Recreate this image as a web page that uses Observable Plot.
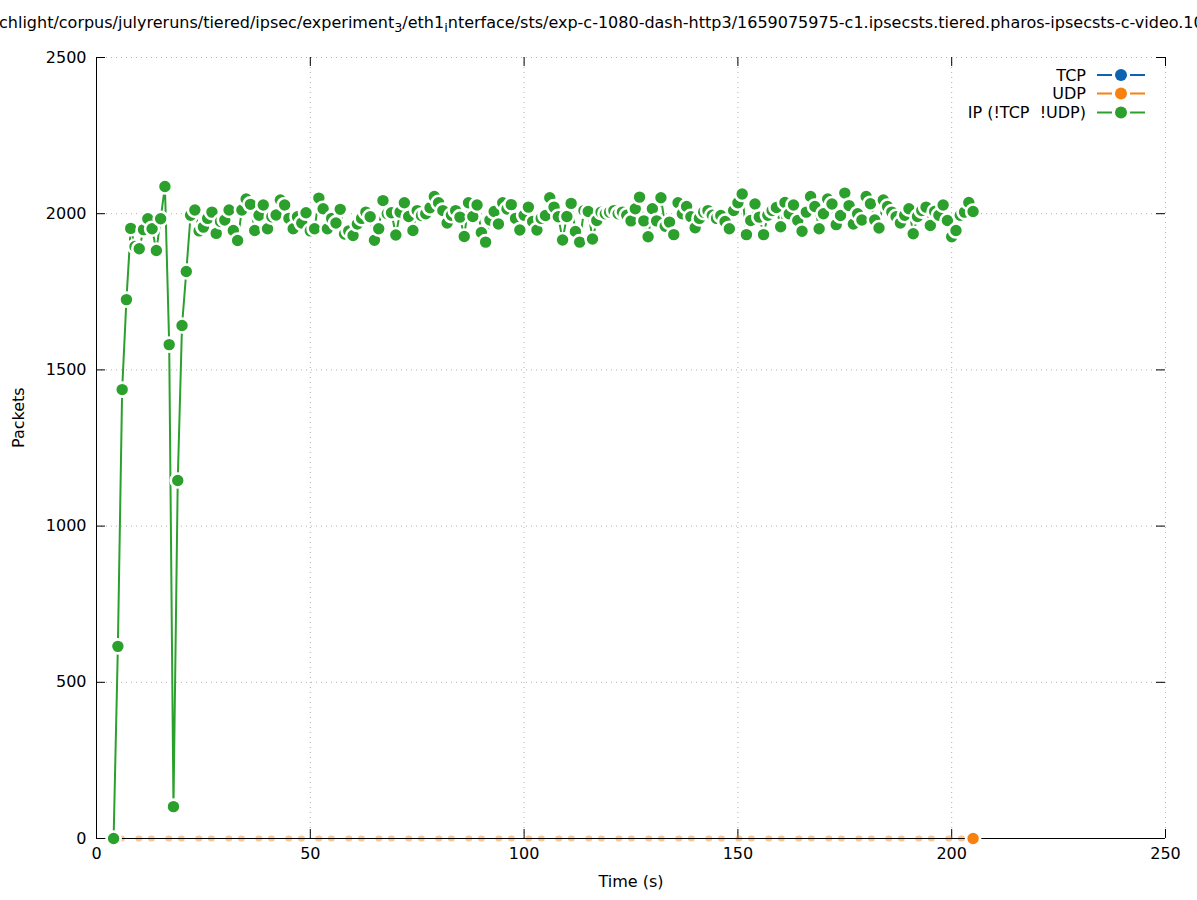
<!DOCTYPE html>
<html>
<head>
<meta charset="utf-8">
<script src="https://cdn.jsdelivr.net/npm/d3@7"></script>
<script src="https://cdn.jsdelivr.net/npm/@observablehq/plot@0.6"></script>
<style>
  html, body { margin: 0; padding: 0; background: #fff; overflow: hidden; }
  #wrap { position: relative; width: 1197px; height: 900px; }
  #title { position: absolute; left: 0; top: 13px; width: 1197px; overflow: hidden; white-space: nowrap;
           font-family: "DejaVu Sans", sans-serif; font-size: 16px; line-height: normal; color: #000; }
  #title .sub { font-size: 12.8px; vertical-align: -4px; }
  #chart { position: absolute; left: 0; top: 0; }
</style>
</head>
<body>
<div id="wrap">
  <div id="chart"></div>
  <div id="title"><span style="margin-left:-1px">chlight/corpus/julyreruns/tiered/ipsec/experiment<span class="sub">3</span>/eth1<span class="sub">i</span>nterface/sts/exp-c-1080-dash-http3/1659075975-c1.ipsecsts.tiered.pharos-ipsecsts-c-video.10</span></div>
</div>
<script>
// ---- data ----
const xTicks = [0, 50, 100, 150, 200, 250];
const yTicks = [0, 500, 1000, 1500, 2000, 2500];

const ipTime = [4,5,6,7,8,9,10,11,12,13,14,15,16,17,18,19,20,21,22,23,24,25,26,27,28,29,30,31,32,33,34,35,36,37,38,39,40,41,42,43,44,45,46,47,48,49,50,51,52,53,54,55,56,57,58,59,60,61,62,63,64,65,66,67,68,69,70,71,72,73,74,75,76,77,78,79,80,81,82,83,84,85,86,87,88,89,90,91,92,93,94,95,96,97,98,99,100,101,102,103,104,105,106,107,108,109,110,111,112,113,114,115,116,117,118,119,120,121,122,123,124,125,126,127,128,129,130,131,132,133,134,135,136,137,138,139,140,141,142,143,144,145,146,147,148,149,150,151,152,153,154,155,156,157,158,159,160,161,162,163,164,165,166,167,168,169,170,171,172,173,174,175,176,177,178,179,180,181,182,183,184,185,186,187,188,189,190,191,192,193,194,195,196,197,198,199,200,201,202,203,204,205];
const ipPackets = [0,615,1437,1725,1953,1895,1888,1949,1984,1952,1882,1984,2087,1581,102,1146,1642,1815,1995,2012,
  1945,1957,1985,2005,1937,1975,1980,2012,1946,1914,2012,2047,2030,1946,1995,2028,1952,1990,1996,2044,
  2028,1985,1952,1990,1970,2003,1945,1952,2050,2016,1952,1985,1970,2014,1935,1945,1930,1967,1985,2005,
  1990,1915,1952,2042,2000,2003,1932,2005,2035,1991,1946,2010,1994,2000,2019,2055,2035,2010,1970,1995,
  2010,1989,1927,2035,1991,2028,1940,1909,1980,2007,1967,2035,2015,2029,1985,1948,1995,2021,1975,1948,
  1985,1994,2051,2021,1990,1916,1991,2033,1943,1909,2010,2007,1919,1978,2005,2000,2005,2010,2000,2005,
  1995,1977,2016,2053,1977,1926,2016,1977,2051,1960,1973,1933,2035,2000,2023,1990,1955,1985,2005,2010,
  1995,1985,1994,1975,1952,2010,2035,2063,1933,1978,2031,1989,1933,1995,2010,2020,1958,2036,2000,2028,
  1978,1944,2005,2055,2023,1952,2000,2047,2031,1965,1994,2066,2026,1967,2000,1980,2055,2032,1980,1954,
  2044,2023,2005,1990,1970,1995,2016,1936,1991,2010,2021,1962,2007,1995,2028,1978,1926,1946,1995,2005,
  2036,2007];

const udpTime = [4, 205];
const udpPackets = [0, 0];
const tcpTime = [4, 205];
const tcpPackets = [0, 0];

const seriesNames = ["TCP", "UDP", "IP (!TCP  !UDP)"];
const seriesColors = ["#0b63b2", "#f8800f", "#2ca02c"];

const ip = ipTime.map((t, i) => ({t, v: ipPackets[i]}));
const udp = udpTime.map((t, i) => ({t, v: udpPackets[i]}));
const tcp = tcpTime.map((t, i) => ({t, v: tcpPackets[i]}));

const W = 1197, H = 900;
const mL = 96, mR = 32, mT = 57, mB = 62;
const frameW = W - mL - mR, frameH = H - mT - mB;
const tickLen = 9;
const gridStyle = {stroke: "#b0b0b0", strokeWidth: 1, strokeDasharray: "1,4"};

const chart = Plot.plot({
  width: W, height: H,
  marginLeft: mL, marginRight: mR, marginTop: mT, marginBottom: mB,
  x: {domain: [0, 250], axis: null},
  y: {domain: [0, 2500], axis: null},
  style: {fontFamily: "DejaVu Sans, sans-serif", fontSize: "16px", background: "white", color: "black", overflow: "visible"},
  marks: [
    Plot.ruleX(xTicks.filter(d => d > 0), {x: d => d, ...gridStyle}),
    Plot.ruleY(yTicks.filter(d => d > 0), {y: d => d, ...gridStyle}),
    // inward ticks, mirrored
    Plot.tickX(xTicks, {x: d => d, insetTop: frameH - tickLen, stroke: "black"}),
    Plot.tickX(xTicks, {x: d => d, insetBottom: frameH - tickLen, stroke: "black"}),
    Plot.tickY(yTicks, {y: d => d, insetRight: frameW - tickLen, stroke: "black"}),
    Plot.tickY(yTicks, {y: d => d, insetLeft: frameW - tickLen, stroke: "black"}),
    // tick labels
    Plot.text(xTicks, {x: d => d, text: d => String(d), frameAnchor: "bottom", dy: 20, fill: "black"}),
    Plot.text(yTicks, {y: d => d, text: d => String(d), frameAnchor: "left", dx: -10, textAnchor: "end", fill: "black"}),
    Plot.text(["Time (s)"], {text: d => d, frameAnchor: "bottom", dy: 48, fill: "black"}),
    Plot.text(["Packets"], {text: d => d, frameAnchor: "left", dx: -78, rotate: -90, fill: "black"}),
    // TCP & UDP at zero
    Plot.line(tcp, {x: "t", y: "v", stroke: seriesColors[0], strokeWidth: 1}),
    Plot.line(udp, {x: "t", y: "v", stroke: seriesColors[1], strokeWidth: 6, strokeOpacity: 0.45,
                    strokeDasharray: "1,11.6,1,16.4", strokeDashoffset: 5.3}),
    // borders (left, bottom)
    Plot.ruleX([0], {stroke: "black", strokeWidth: 1}),
    Plot.ruleY([0], {stroke: "black", strokeWidth: 1}),
    // IP series
    Plot.line(ip, {x: "t", y: "v", stroke: seriesColors[2], strokeWidth: 2}),
    Plot.dot(ip, {x: "t", y: "v", r: 7, fill: seriesColors[2], stroke: "white", strokeWidth: 2.6}),
    Plot.dot(udp, Plot.selectLast({x: "t", y: "v", r: 7, fill: seriesColors[1], stroke: "white", strokeWidth: 2.6}))
  ]
});
document.getElementById("chart").appendChild(chart);

// legend (top-right, inside the frame)
const svg = d3.select(chart);
const lg = svg.append("g").attr("font-family", "DejaVu Sans, sans-serif").attr("font-size", 16);
const rowY = [75, 93.5, 112.5];
seriesNames.forEach((name, i) => {
  const y = rowY[i];
  lg.append("text").attr("x", 1086).attr("y", y).attr("dy", "0.36em")
    .attr("text-anchor", "end").attr("fill", "black").style("white-space", "pre").text(name);
  lg.append("line").attr("x1", 1097).attr("x2", 1112).attr("y1", y).attr("y2", y)
    .attr("stroke", seriesColors[i]).attr("stroke-width", 2);
  lg.append("line").attr("x1", 1130).attr("x2", 1145).attr("y1", y).attr("y2", y)
    .attr("stroke", seriesColors[i]).attr("stroke-width", 2);
  lg.append("circle").attr("cx", 1121).attr("cy", y).attr("r", 6).attr("fill", seriesColors[i]);
});
</script>
</body>
</html>
